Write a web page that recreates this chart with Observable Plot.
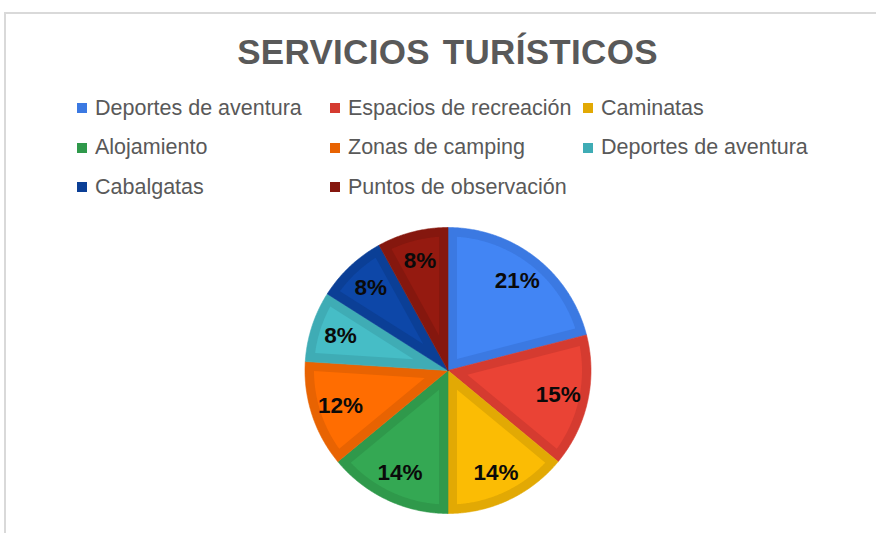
<!DOCTYPE html>
<html><head><meta charset="utf-8">
<script src="https://cdn.jsdelivr.net/npm/d3@7"></script>
<script src="https://cdn.jsdelivr.net/npm/@observablehq/plot@0.6"></script>
<style>
body{margin:0;background:#fff;font-family:"Liberation Sans",Arial,sans-serif;}
#wrap{position:relative;width:876px;height:533px;overflow:hidden;background:#fff;}
#frame{position:absolute;left:4px;top:12px;width:1000px;height:600px;border-left:2px solid #d9d9d9;border-top:2px solid #d9d9d9;}
#title{position:absolute;left:0;width:895px;top:32px;text-align:center;font-weight:bold;font-size:35px;color:#595959;line-height:40px;white-space:nowrap;letter-spacing:0.3px;word-spacing:3px;}
.item{position:absolute;white-space:nowrap;font-size:21.5px;color:#595959;line-height:26px;}
.sw{position:absolute;width:10px;height:10px;}
#chart{position:absolute;left:0;top:205px;}
</style></head>
<body>
<div id="wrap">
  <div id="frame"></div>
  <div id="title">SERVICIOS TURÍSTICOS</div>
  <div id="legend"></div>
  <div id="chart"></div>
</div>
<script>
const title = "SERVICIOS TURÍSTICOS";
const categories = ["Deportes de aventura", "Espacios de recreación", "Caminatas", "Alojamiento", "Zonas de camping", "Deportes de aventura", "Cabalgatas", "Puntos de observación"];
const values = [21, 15, 14, 14, 12, 8, 8, 8];
const fillColors = ["#4285F4", "#EA4335", "#FBBC04", "#34A853", "#FF6D01", "#46BDC6", "#0D47A8", "#951A10"];
const edgeColors = ["#3B79E2", "#D53B30", "#E2A904", "#2F994B", "#E86302", "#3FACB5", "#0B3F96", "#85170E"];

document.getElementById("title").textContent = title;

// legend (HTML, 3 columns)
const legend = document.getElementById("legend");
const colX = [77, 330, 583];
const rowBase = [115, 154.5, 194];
categories.forEach((c, i) => {
  const col = i % 3, row = Math.floor(i / 3);
  const sw = document.createElement("div");
  sw.className = "sw";
  sw.style.left = colX[col] + "px";
  sw.style.top = (rowBase[row] - 12) + "px";
  sw.style.background = edgeColors[i];
  legend.appendChild(sw);
  const t = document.createElement("div");
  t.className = "item";
  t.style.left = (colX[col] + 18) + "px";
  t.style.top = (rowBase[row] - 20.5) + "px";
  t.textContent = c;
  legend.appendChild(t);
});

// pie geometry from values
const total = d3.sum(values);
const inset = 9 / 143;
const slices = [];
let acc = 0;
values.forEach((v, i) => {
  const a0 = acc / total * 2 * Math.PI;
  acc += v;
  const a1 = acc / total * 2 * Math.PI;
  slices.push({i, v, a0, a1});
});

function wedge(a0, a1, d) {
  const pts = [];
  const h = (a1 - a0) / 2, mid = (a0 + a1) / 2;
  const s = d > 0 ? d / Math.sin(h) : 0;
  const apex = [s * Math.sin(mid), s * Math.cos(mid)];
  pts.push(apex);
  const R = 1 - d;
  const da = d > 0 ? Math.asin(d / R) : 0;
  const b0 = a0 + da, b1 = a1 - da;
  const n = Math.max(2, Math.ceil((b1 - b0) / (Math.PI / 360)));
  for (let k = 0; k <= n; k++) {
    const a = b0 + (b1 - b0) * k / n;
    pts.push([R * Math.sin(a), R * Math.cos(a)]);
  }
  pts.push(apex);
  return pts;
}

const outer = [], inner = [];
slices.forEach(s => {
  wedge(s.a0, s.a1, 0).forEach(([x, y]) => outer.push({x, y, k: s.i, color: edgeColors[s.i]}));
  wedge(s.a0, s.a1, inset).forEach(([x, y]) => inner.push({x, y, k: s.i, color: fillColors[s.i]}));
});
const labels = slices.map(s => {
  const m = (s.a0 + s.a1) / 2;
  return {x: 0.79 * Math.sin(m), y: 0.79 * Math.cos(m), text: Math.round(s.v / total * 100) + "%"};
});

const cx = 447.5, cy = 165, r = 143;
const chart = Plot.plot({
  width: 876,
  height: 328,
  margin: 0,
  style: {fontFamily: "'Liberation Sans', Arial, sans-serif", background: "transparent"},
  x: {domain: [-1, 1], range: [cx - r, cx + r], axis: null},
  y: {domain: [-1, 1], range: [cy + r, cy - r], axis: null},
  marks: [
    Plot.line(outer, {x: "x", y: "y", z: "k", fill: "color", stroke: "color", strokeWidth: 0.6, curve: "linear"}),
    Plot.line(inner, {x: "x", y: "y", z: "k", fill: "color", stroke: "none", curve: "linear"}),
    Plot.text(labels, {x: "x", y: "y", text: "text", fontSize: 22.5, fontWeight: "bold", fill: "#0a0a0a"})
  ]
});
document.getElementById("chart").appendChild(chart);
</script>
</body></html>
